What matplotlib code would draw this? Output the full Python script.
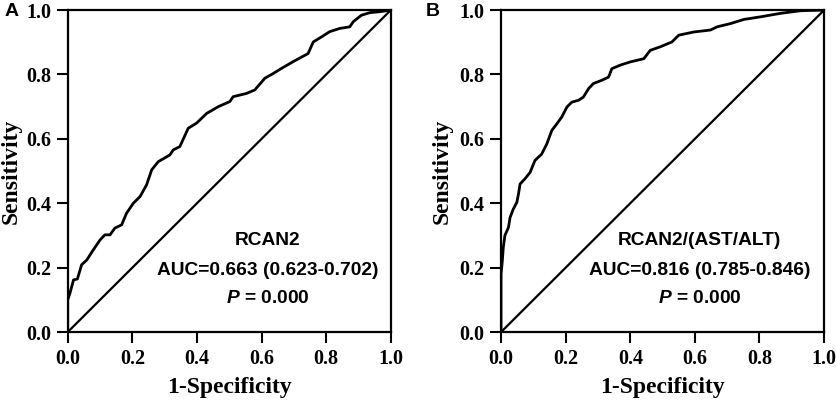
import matplotlib
matplotlib.use("Agg")
import matplotlib.pyplot as plt

plt.rcParams["mathtext.fontset"] = "custom"
plt.rcParams["mathtext.bfit"] = "Liberation Sans:bold:italic"

# Panel A: RCAN2 ROC curve (1-specificity, sensitivity)
fpr_a = [0.0, 0.0, 0.007, 0.018, 0.03, 0.043, 0.059, 0.079, 0.1, 0.115, 0.131, 0.146, 0.167,
         0.182, 0.203, 0.224, 0.244, 0.26, 0.28, 0.316, 0.327, 0.347, 0.373, 0.399, 0.43,
         0.466, 0.502, 0.512, 0.553, 0.579, 0.61, 0.636, 0.662, 0.698, 0.744, 0.76, 0.786,
         0.811, 0.842, 0.873, 0.884, 0.909, 0.935, 0.966, 1.0]
tpr_a = [0.0, 0.10, 0.121, 0.162, 0.165, 0.209, 0.224, 0.255, 0.286, 0.302, 0.302, 0.323, 0.333,
         0.369, 0.40, 0.421, 0.457, 0.504, 0.529, 0.55, 0.566, 0.576, 0.633, 0.649, 0.679,
         0.70, 0.716, 0.731, 0.741, 0.752, 0.788, 0.803, 0.819, 0.84, 0.865, 0.901, 0.917,
         0.933, 0.943, 0.948, 0.964, 0.984, 0.992, 0.995, 1.0]

# Panel B: RCAN2/(AST/ALT) ROC curve
fpr_b = [0.0, 0.0, 0.004, 0.007, 0.012, 0.023, 0.028, 0.038, 0.049, 0.054, 0.059, 0.074, 0.09,
         0.105, 0.126, 0.142, 0.157, 0.173, 0.188, 0.204, 0.219, 0.24, 0.255, 0.271, 0.286,
         0.312, 0.333, 0.343, 0.369, 0.40, 0.442, 0.462, 0.493, 0.529, 0.55, 0.597, 0.648,
         0.669, 0.71, 0.752, 0.803, 0.866, 0.928, 1.0]
tpr_b = [0.0, 0.18, 0.221, 0.263, 0.30, 0.325, 0.356, 0.382, 0.403, 0.429, 0.46, 0.476, 0.496,
         0.533, 0.553, 0.585, 0.626, 0.647, 0.668, 0.699, 0.714, 0.72, 0.73, 0.756, 0.772,
         0.782, 0.792, 0.818, 0.829, 0.839, 0.849, 0.875, 0.886, 0.901, 0.922, 0.932, 0.938,
         0.948, 0.958, 0.971, 0.979, 0.99, 0.998, 1.0]

ticks = [0.0, 0.2, 0.4, 0.6, 0.8, 1.0]
tick_labels = ["0.0", "0.2", "0.4", "0.6", "0.8", "1.0"]

panels = [
    ("A", fpr_a, tpr_a, "RCAN2", "AUC=0.663 (0.623-0.702)", 0.62, 3),
    ("B", fpr_b, tpr_b, "RCAN2/(AST/ALT)", "AUC=0.816 (0.785-0.846)", 0.615, 5),
]

fig = plt.figure(figsize=(8.37, 4.03), dpi=100)
lefts = [0.0809, 0.5986]
serif = "Liberation Serif"
sans = "Liberation Sans"
ann_fs = 13.8

for (letter, fx, ty, name, auc, cx, ylp), left in zip(panels, lefts):
    ax = fig.add_axes([left, 0.176, 0.386, 0.799])
    ax.plot(fx, ty, color="black", lw=2.0, solid_joinstyle="round")
    ax.plot([0, 1], [0, 1], color="black", lw=1.6)
    ax.set_xlim(0, 1)
    ax.set_ylim(0, 1)
    ax.set_xticks(ticks)
    ax.set_yticks(ticks)
    ax.set_xticklabels(tick_labels, fontfamily=serif, fontweight="bold", fontsize=14.5)
    ax.set_yticklabels(tick_labels, fontfamily=serif, fontweight="bold", fontsize=14.5)
    ax.tick_params(direction="out", length=8, width=1.5, pad=4)
    for s in ax.spines.values():
        s.set_linewidth(1.6)
    ax.set_xlabel("1-Specificity", fontfamily=serif, fontweight="bold", fontsize=17, labelpad=6)
    ax.set_ylabel("Sensitivity", fontfamily=serif, fontweight="bold", fontsize=17, labelpad=ylp)
    ax.text(cx, 0.283, name, ha="center", va="center", fontfamily=sans, fontweight="bold", fontsize=ann_fs)
    ax.text(cx, 0.19, auc, ha="center", va="center", fontfamily=sans, fontweight="bold", fontsize=ann_fs)
    ax.text(cx, 0.105, r"$\bfit{P}$ = 0.000", ha="center", va="center", fontfamily=sans,
            fontweight="bold", fontsize=ann_fs)

fig.text(12 / 837, 1 - 12 / 403, "A", ha="center", va="center", fontfamily=sans, fontweight="bold", fontsize=14)
fig.text(433 / 837, 1 - 12 / 403, "B", ha="center", va="center", fontfamily=sans, fontweight="bold", fontsize=14)

fig.savefig("out.png", dpi=100)
